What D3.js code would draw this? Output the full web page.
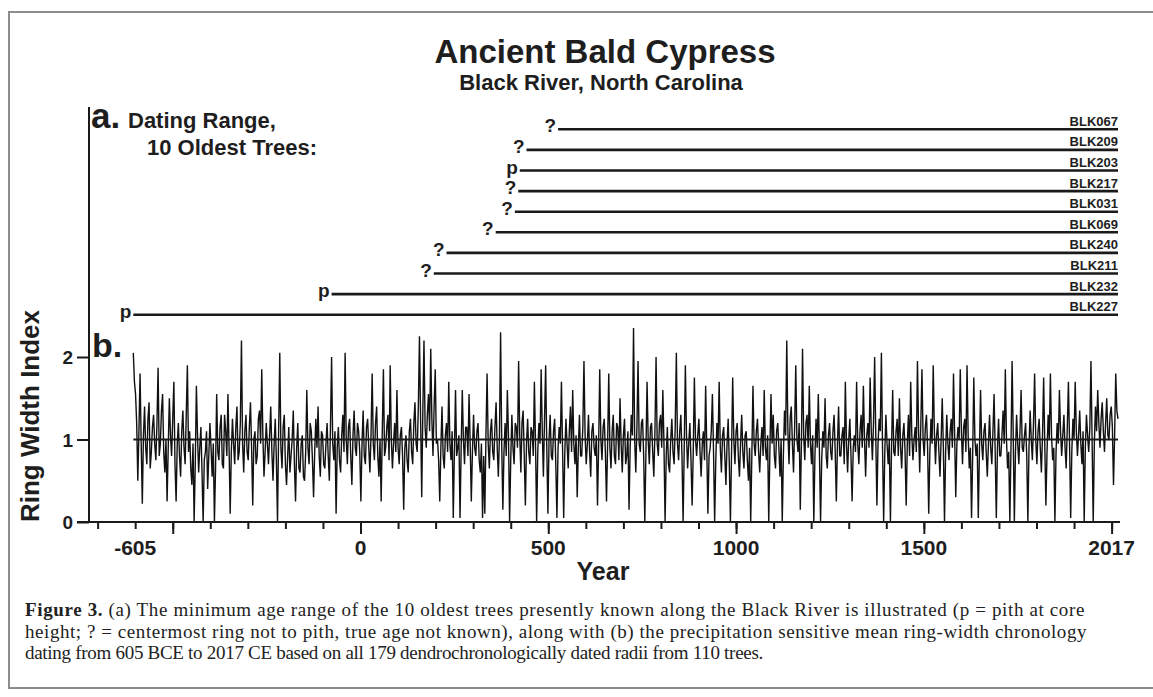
<!DOCTYPE html>
<html>
<head>
<meta charset="utf-8">
<script src="https://d3js.org/d3.v7.min.js"></script>
<style>
body { margin: 0; background: #fff; }
svg text { font-family: "Liberation Sans", Arial, sans-serif; font-weight: bold; fill: #1e1e1e; }
svg text.caption { font-family: "Liberation Serif", "Times New Roman", serif; font-weight: normal; fill: #222; }
</style>
</head>
<body>
<div id="chart"></div>
<script>
var width = 1153;
var height = 697;

// panel a: the 10 oldest trees, top to bottom
var trees = ["BLK067", "BLK209", "BLK203", "BLK217", "BLK031", "BLK069", "BLK240", "BLK211", "BLK232", "BLK227"];
var treeStart = [526, 442, 424, 420, 411, 360, 229, 195, -77, -605];
var treeMark = ["?", "?", "p", "?", "?", "?", "?", "?", "p", "p"];

// panel b: ring width index, one value read every 3 years from -605 to 2017
var startYear = -605;
var endYear = 2017;
var yearStep = 3;

var rwiA = [ // -605 .. -8
    2.05,1.70, 1.55,1.20, 0.50,1.10, 1.80,0.95, 0.22,1.05, 1.40,0.90, 0.70,1.25, 1.45,0.65, 0.85,1.15, 1.30,0.95,
    0.75,1.20, 1.87,0.80, 0.95,1.35, 1.55,0.85, 0.60,1.00, 0.25,0.90, 1.50,1.05, 0.80,1.25, 1.70,0.70, 0.25,0.95,
    1.20,0.80, 0.55,1.10, 1.35,0.90, 0.70,1.30, 1.90,0.85, 1.10,0.65, 0.45,0.95, 0.00,0.70, 1.65,1.05, 0.60,0.90,
    1.15,0.60, 0.00,0.75, 0.85,1.10, 0.40,0.80, 1.20,0.90, 0.55,0.95, 0.00,0.65, 1.55,0.85, 0.75,1.15, 1.30,0.70,
    0.65,1.30, 1.10,0.80, 1.55,0.90, 0.10,0.85, 1.25,0.95, 0.70,1.15, 1.40,0.75, 0.85,1.20, 2.20,0.95, 0.60,1.10,
    1.30,0.85, 0.75,1.15, 1.45,0.90, 0.20,1.00, 1.10,0.70, 0.80,1.25, 1.35,0.95, 1.85,1.05, 0.55,0.85, 1.20,0.95,
    0.70,1.05, 1.40,0.85, 0.50,0.95, 1.25,0.75, 0.00,1.10, 2.05,0.90, 0.65,1.15, 1.30,0.70, 0.45,0.80, 1.15,0.60,
    0.80,1.00, 1.35,0.70, 0.25,0.90, 1.20,0.65, 0.60,0.95, 1.05,0.55, 0.50,0.85, 1.60,0.90, 0.70,1.20, 1.10,0.75,
    0.30,0.85, 1.25,0.90, 1.40,0.80, 0.55,1.10, 1.05,0.70, 0.65,0.95, 1.20,0.80, 0.50,1.15, 2.00,0.95, 0.75,1.10,
    0.10,0.90, 1.15,0.75, 0.60,1.05, 1.30,0.85, 2.05,1.00, 0.70,1.15, 1.25,0.80, 0.45,1.05, 1.35,0.90, 0.80,1.20
];
var rwiB = [ // -5 .. 592
    1.10,0.85, 0.25,0.95, 1.35,0.80, 0.70,1.15, 1.25,0.90, 0.60,1.05, 1.80,0.95, 0.75,1.20, 1.40,0.80, 0.55,1.00,
    0.25,1.10, 1.85,0.80, 0.90,1.15, 1.30,0.75, 1.90,1.00, 0.65,0.95, 1.20,0.85, 1.60,0.90, 0.70,1.05, 1.15,0.80,
    0.15,0.90, 1.05,0.75, 0.60,1.10, 1.25,0.85, 0.70,1.20, 1.45,0.95, 0.85,1.40, 2.25,1.25, 0.30,1.35, 2.20,1.15,
    0.90,1.30, 1.55,1.10, 2.10,1.25, 0.80,1.40, 1.85,0.95, 1.00,0.75, 0.25,0.90, 1.40,0.80, 0.65,1.05, 1.20,0.85,
    1.70,0.95, 0.75,1.10, 0.05,0.85, 1.60,0.80, 0.90,1.05, 0.05,0.90, 1.60,1.00, 0.70,1.15, 1.15,0.80, 1.55,0.95,
    0.25,0.85, 1.30,0.90, 0.80,1.10, 1.20,0.75, 0.60,0.95, 0.05,0.80, 0.10,1.05, 1.80,0.95, 0.65,1.10, 1.25,0.85,
    0.75,1.15, 1.45,0.90, 0.55,1.05, 2.30,0.95, 0.15,0.85, 1.20,0.80, 1.60,1.05, 0.00,0.75, 1.30,0.90, 0.70,1.20,
    1.15,0.90, 1.95,1.05, 0.60,1.20, 1.35,0.80, 0.20,0.95, 1.25,0.85, 0.70,1.15, 1.10,0.80, 1.70,0.95, 0.00,0.85,
    1.20,0.95, 1.85,1.10, 0.55,1.25, 1.90,0.90, 0.10,1.00, 1.30,0.80, 0.75,1.10, 1.25,0.70, 0.05,0.90, 1.15,0.95,
    1.70,0.90, 0.05,0.85, 1.25,0.95, 0.65,1.10, 1.40,0.85, 1.60,0.95, 0.70,1.05, 0.30,0.90, 1.30,0.80, 0.80,1.15
];
var rwiC = [ // 595 .. 1192
    1.95,1.05, 0.70,0.95, 1.30,0.85, 0.55,1.10, 1.20,0.90, 0.80,1.05, 0.20,0.90, 1.85,1.00, 0.75,1.15, 1.25,0.85,
    0.25,0.95, 1.80,0.90, 0.65,1.10, 1.30,0.80, 0.70,1.20, 1.15,0.75, 1.50,0.95, 0.60,1.05, 1.25,0.70, 0.80,1.10,
    0.15,0.90, 1.30,1.05, 2.35,1.00, 0.60,1.15, 1.95,0.95, 0.85,1.20, 1.25,0.80, 0.00,0.85, 1.70,1.00, 0.70,1.15,
    1.20,0.85, 0.55,1.10, 2.00,0.95, 0.80,1.20, 1.30,0.90, 1.60,0.95, 0.00,0.80, 1.15,0.70, 0.60,1.00, 1.25,0.85,
    0.70,1.15, 2.05,0.95, 0.75,1.10, 1.30,0.80, 0.00,0.90, 1.90,1.05, 0.65,0.95, 1.20,0.75, 0.20,0.85, 1.75,1.00,
    0.80,1.05, 1.25,0.85, 0.55,0.95, 1.10,0.75, 1.65,0.90, 0.10,0.80, 0.90,1.10, 1.55,0.85, 0.00,0.75, 1.20,0.95,
    1.70,0.90, 0.60,1.05, 1.15,0.80, 0.45,0.95, 1.25,0.70, 0.00,0.85, 1.75,1.00, 0.70,1.10, 1.20,0.80, 0.55,0.95,
    1.30,0.85, 0.65,1.05, 1.10,0.75, 0.50,0.90, 0.00,0.80, 1.65,0.95, 0.80,1.10, 1.25,0.85, 0.60,0.95, 1.15,0.80,
    1.60,0.90, 0.75,1.05, 0.00,0.85, 1.55,0.95, 1.30,0.80, 0.65,1.10, 1.20,0.90, 0.55,1.00, 0.00,0.80, 1.35,1.05,
    2.20,1.10, 0.70,1.25, 1.40,0.95, 0.60,1.15, 1.90,1.00, 0.85,1.20, 0.15,0.95, 2.10,1.05, 0.75,1.20, 1.30,0.90
];
var rwiD = [ // 1195 .. 1792
    1.65,0.95, 0.70,1.05, 0.00,0.80, 1.25,0.90, 1.55,0.85, 0.00,0.75, 1.10,0.90, 1.50,0.80, 0.65,1.05, 1.20,0.85,
    0.75,1.10, 1.30,0.85, 0.25,0.95, 1.40,0.80, 0.80,1.05, 1.15,0.70, 1.70,0.95, 0.60,1.00, 1.25,0.80, 0.25,0.90,
    1.05,0.85, 1.70,0.95, 0.70,1.10, 1.30,0.90, 1.65,1.00, 0.55,1.05, 1.20,0.90, 1.75,1.10, 0.75,1.20, 2.00,1.05,
    0.20,0.95, 1.25,1.10, 2.05,0.90, 0.00,0.85, 1.30,0.95, 0.70,1.00, 0.00,0.90, 1.60,0.85, 0.80,1.10, 1.25,0.80,
    1.50,0.90, 0.65,1.05, 1.20,0.85, 0.20,0.95, 1.30,0.80, 1.70,1.05, 0.75,1.00, 1.15,0.85, 1.95,1.10, 0.60,1.20,
    1.85,1.00, 0.80,1.15, 1.30,0.90, 0.10,0.85, 1.25,0.95, 1.90,1.10, 0.70,1.05, 1.20,0.85, 0.55,1.00, 1.50,0.90,
    0.00,0.85, 1.30,0.95, 0.75,1.10, 1.25,0.90, 1.80,1.05, 0.30,0.95, 1.15,1.00, 1.85,1.10, 0.70,1.15, 1.25,0.85,
    1.90,1.05, 0.65,0.90, 0.05,0.80, 1.75,1.00, 0.80,0.95, 0.05,0.85, 1.60,0.95, 0.75,1.10, 1.20,0.85, 0.55,0.95,
    1.30,0.90, 0.70,1.10, 1.55,0.85, 0.05,0.90, 1.25,0.80, 0.80,1.05, 1.35,0.95, 1.85,1.00, 0.65,0.85, 0.00,0.90,
    1.95,1.05, 0.00,0.85, 1.30,0.95, 0.70,1.10, 1.60,0.90, 0.85,1.05, 1.20,0.80, 0.00,0.90, 1.35,1.00, 0.75,1.20
];
var rwiE = [ // 1795 .. 2017
    1.80,1.00, 0.70,1.10, 1.25,0.90, 0.60,1.05, 1.75,0.95, 0.20,0.85, 1.30,1.00, 1.80,1.05, 0.75,0.90, 0.00,0.85,
    1.20,0.95, 1.60,1.10, 0.80,1.05, 1.30,0.90, 0.65,1.15, 1.70,0.95, 0.05,0.85, 1.25,1.00, 1.70,1.10, 0.80,1.05,
    1.35,0.95, 0.70,1.10, 0.00,0.90, 1.30,1.05, 0.85,1.15, 1.95,1.00, 0.00,0.95, 1.40,1.10, 1.60,1.20, 0.90,1.25,
    1.45,1.10, 0.85,1.20, 1.50,1.05, 1.00,1.30, 1.40,1.15, 0.45,1.05, 1.80,1.35, 1.25
];
var rwiMean = 1;

var yTicks = [0, 1, 2];
var xLabelYears = [-600, 0, 500, 1000, 1500, 2000];
var xLabels = ["-605", "0", "500", "1000", "1500", "2017"];

var caption = [
    " (a) The minimum age range of the 10 oldest trees presently known along the Black River is illustrated (p = pith at core",
    "height; ? = centermost ring not to pith, true age not known), along with (b) the precipitation sensitive mean ring-width chronology",
    "dating from 605 BCE to 2017 CE based on all 179 dendrochronologically dated radii from 110 trees."
];

var ink = "#1a1a1a";

var svg = d3.select("#chart").append("svg").attr("width", width).attr("height", height);

// frame
svg.append("rect").attr("x", 9).attr("y", 12).attr("width", 1160).attr("height", 676)
    .style("fill", "none").style("stroke", "#8c8c8c").style("stroke-width", 2);

var x = d3.scaleLinear().domain([startYear, endYear]).range([133.3, 1118]);
var y = d3.scaleLinear().domain([0, 2]).range([522, 357]);
var row = d3.scalePoint().domain(trees).range([129.3, 314.7]);

// titles
svg.append("text").attr("x", 605).attr("y", 63).attr("text-anchor", "middle")
    .style("font-size", "33px").text("Ancient Bald Cypress");
svg.append("text").attr("x", 601).attr("y", 90).attr("text-anchor", "middle")
    .style("font-size", "22px").text("Black River, North Carolina");

// panel a
svg.append("text").attr("x", 91).attr("y", 128).style("font-size", "35px").text("a.");
svg.append("text").attr("x", 128).attr("y", 128).style("font-size", "22px").text("Dating Range,");
svg.append("text").attr("x", 147).attr("y", 155).style("font-size", "22px").text("10 Oldest Trees:");

var treeData = trees.map(function(id, i) {
    return { id: id, start: treeStart[i], mark: treeMark[i] };
});

var tg = svg.append("g").attr("class", "trees");
tg.selectAll(".tline").data(treeData).enter().append("line")
    .attr("class", "tline")
    .attr("x1", function(d) { return x(d.start); })
    .attr("x2", x(endYear))
    .attr("y1", function(d) { return row(d.id); })
    .attr("y2", function(d) { return row(d.id); })
    .style("stroke", ink).style("stroke-width", 2.6);

tg.selectAll(".tmark").data(treeData).enter().append("text")
    .attr("class", "tmark")
    .attr("x", function(d) { return x(d.start) - 2; })
    .attr("y", function(d) { return row(d.id) + 3; })
    .attr("text-anchor", "end")
    .style("font-size", "19px")
    .text(function(d) { return d.mark; });

tg.selectAll(".tlabel").data(treeData).enter().append("text")
    .attr("class", "tlabel")
    .attr("x", x(endYear))
    .attr("y", function(d) { return row(d.id) - 3.5; })
    .attr("text-anchor", "end")
    .style("font-size", "13px")
    .text(function(d) { return d.id; });

// panel b
svg.append("text").attr("x", 92).attr("y", 357).style("font-size", "34px").text("b.");

var rwi = rwiA.concat(rwiB, rwiC, rwiD, rwiE);
var series = rwi.map(function(v, i) {
    return { year: startYear + i * yearStep, value: v };
});

var line = d3.line()
    .x(function(d) { return x(d.year); })
    .y(function(d) { return y(d.value); });

svg.append("path").datum(series).attr("d", line)
    .style("fill", "none").style("stroke", "#111").style("stroke-width", 1.4).style("stroke-linejoin", "bevel");

svg.append("line")
    .attr("x1", x(startYear)).attr("x2", x(endYear))
    .attr("y1", y(rwiMean)).attr("y2", y(rwiMean))
    .style("stroke", ink).style("stroke-width", 2.2);

// axes
var yAxis = d3.axisLeft(y).tickValues(yTicks).tickSize(12).tickPadding(4).tickFormat(d3.format("d"));
var ya = svg.append("g").attr("transform", "translate(89,0)").call(yAxis);
ya.select(".domain").remove();
ya.selectAll(".tick line").style("stroke", ink).style("stroke-width", 2);
ya.selectAll(".tick text").style("font-size", "19px").style("font-family", null).attr("dy", "0.36em");

var minorAxis = d3.axisBottom(x).tickValues(d3.range(-700, 2001, 100)).tickSize(7).tickFormat("");
var xm = svg.append("g").attr("transform", "translate(0,522)").call(minorAxis);
xm.select(".domain").remove();
xm.selectAll(".tick line").style("stroke", ink).style("stroke-width", 2);

var majorAxis = d3.axisBottom(x).tickValues(d3.range(-500, 2001, 500)).tickSize(12).tickFormat("");
var xM = svg.append("g").attr("transform", "translate(0,522)").call(majorAxis);
xM.select(".domain").remove();
xM.selectAll(".tick line").style("stroke", ink).style("stroke-width", 2);

svg.append("g").selectAll(".xlabel").data(xLabelYears).enter().append("text")
    .attr("class", "xlabel")
    .attr("x", function(d) { return x(d); })
    .attr("y", 555)
    .attr("text-anchor", "middle")
    .style("font-size", "21px")
    .text(function(d, i) { return xLabels[i]; });

svg.append("line").attr("x1", 89).attr("x2", 89).attr("y1", 107).attr("y2", 523)
    .style("stroke", ink).style("stroke-width", 2);
svg.append("line").attr("x1", 77).attr("x2", 1120).attr("y1", 522).attr("y2", 522)
    .style("stroke", ink).style("stroke-width", 2);

svg.append("text").attr("x", 603).attr("y", 580).attr("text-anchor", "middle")
    .style("font-size", "25px").text("Year");
svg.append("text").attr("transform", "translate(39,416) rotate(-90)").attr("text-anchor", "middle")
    .style("font-size", "26px").text("Ring Width Index");

// caption, fitted to the widths of the original lines
var capTargets = [1060, 1062, 738];
var capBase = [616, 637.5, 659];
caption.forEach(function(txt, i) {
    var t = svg.append("text").attr("class", "caption").attr("x", 25).attr("y", capBase[i])
        .style("font-size", "19px");
    if (i === 0) {
        t.append("tspan").style("font-weight", "bold").text("Figure 3.");
    }
    t.append("tspan").text(txt);
    var natural = t.node().getComputedTextLength();
    var chars = (i === 0 ? 9 : 0) + txt.length;
    t.style("letter-spacing", ((capTargets[i] - natural) / chars) + "px");
});
</script>
</body>
</html>
